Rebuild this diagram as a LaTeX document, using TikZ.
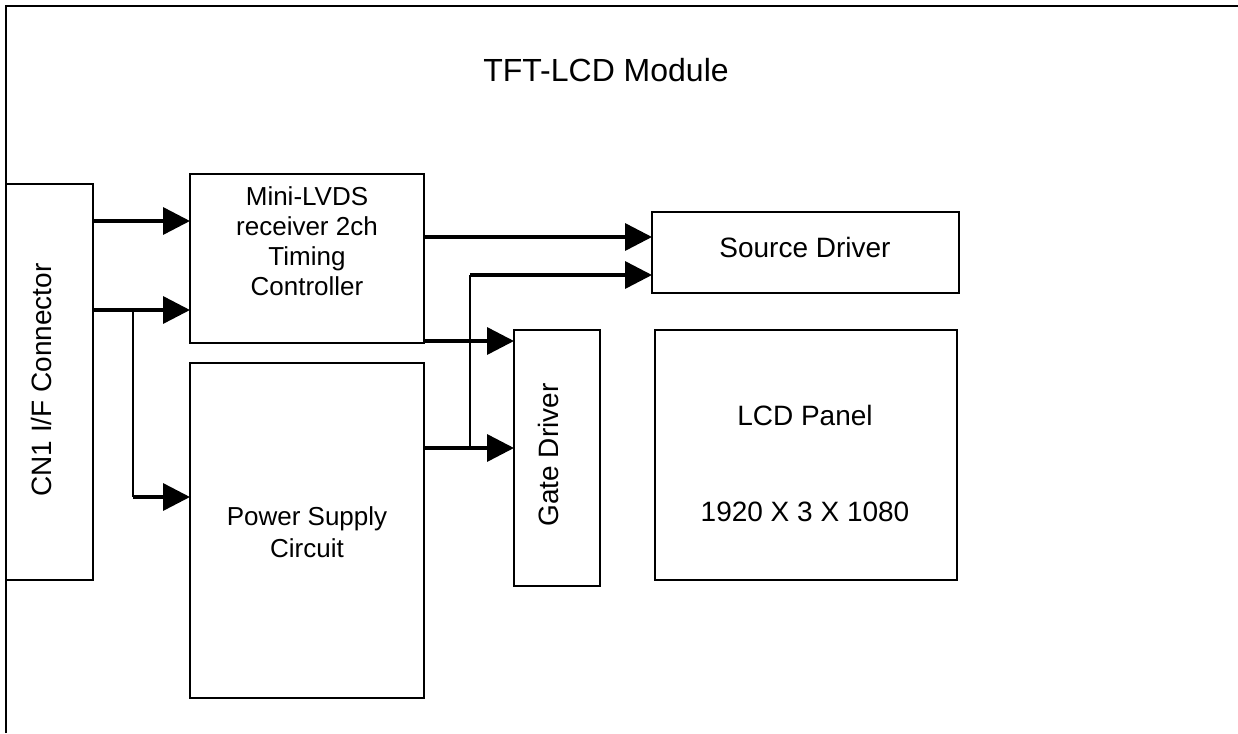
\documentclass[tikz,border=0pt]{standalone}
\usepackage{fontspec}
\setmainfont{Liberation Sans}
\usetikzlibrary{arrows.meta}
\begin{document}
\begin{tikzpicture}[x=1pt,y=-1pt,
  box/.style={draw, line width=2.3pt, inner sep=0pt, outer sep=0pt, rectangle},
  lbl/.style={inner sep=0pt, align=center},
  arr/.style={line width=3.5pt, -{Triangle[length=27pt,width=27pt]}},
  wire/.style={line width=2.6pt}]
\useasboundingbox (0,0) rectangle (1238,733);
% module frame (only top and left edges visible)
\coordinate (fbl) at (6,733);
\coordinate (ftl) at (6,6);
\coordinate (ftr) at (1238,6);
\draw[line width=2.3pt] (fbl) -- (ftl) -- (ftr);
\node[lbl, font=\fontsize{32}{38}\selectfont] (title) at (606,70) {TFT-LCD Module};
% boxes
\node[box, minimum width=87, minimum height=396] (cn) at (49.5,382) {};
\node[lbl, rotate=90, font=\fontsize{28}{34}\selectfont] (cnt) at (41,380) {CN1 I/F Connector};
\node[box, minimum width=234, minimum height=169] (lvds) at (307,258.5) {};
\node[lbl, font=\fontsize{26}{30}\selectfont] (lvdst) at (307,241) {Mini-LVDS\\receiver 2ch\\Timing\\Controller};
\node[box, minimum width=234, minimum height=335] (psu) at (307,530.5) {};
\node[lbl, font=\fontsize{26}{32}\selectfont] (psut) at (307,532) {Power Supply\\Circuit};
\node[box, minimum width=307, minimum height=81] (src) at (805.5,252.5) {};
\node[lbl, font=\fontsize{28}{34}\selectfont] (srct) at (805,247) {Source Driver};
\node[box, minimum width=86, minimum height=256] (gate) at (557,458) {};
\node[lbl, rotate=90, font=\fontsize{28}{34}\selectfont] (gatet) at (548,455) {Gate Driver};
\node[box, minimum width=302, minimum height=250] (lcd) at (806,455) {};
\node[lbl, font=\fontsize{28}{34}\selectfont] (lcdt1) at (805,415) {LCD Panel};
\node[lbl, font=\fontsize{28}{34}\selectfont] (lcdt2) at (805,512) {1920 X 3 X 1080};
% connector rows
\coordinate (r1) at (0,221);
\coordinate (r2) at (0,310);
\coordinate (r3) at (0,497);
\coordinate (r4) at (0,237);
\coordinate (r5) at (0,341);
\coordinate (r6) at (0,448);
\coordinate (r7) at (0,275);
\coordinate (bx) at (133,0);
\coordinate (vx) at (470,0);
% connectors
\draw[arr] (cn.east |- r1) -- (lvds.west |- r1);
\draw[arr] (cn.east |- r2) -- (lvds.west |- r2);
\draw[wire] (bx |- r2) -- (bx |- r3);
\draw[arr] (bx |- r3) -- (psu.west |- r3);
\draw[arr] (lvds.east |- r4) -- (src.west |- r4);
\draw[arr] (lvds.east |- r5) -- (gate.west |- r5);
\draw[arr] (psu.east |- r6) -- (gate.west |- r6);
\draw[wire] (vx |- r6) -- (vx |- r7);
\draw[arr] (vx |- r7) -- (src.west |- r7);
\end{tikzpicture}
\end{document}
